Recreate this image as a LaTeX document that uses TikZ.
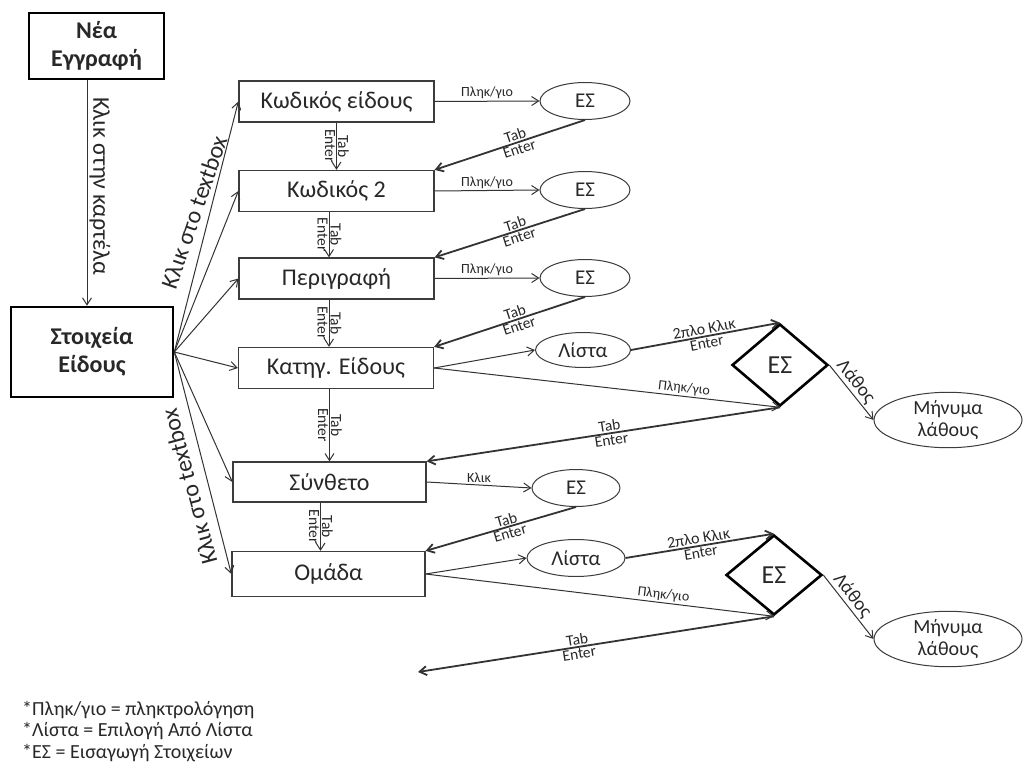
\documentclass[tikz,border=0pt]{standalone}
\usepackage{fontspec}
\setmainfont{Carlito}
\usetikzlibrary{shapes.geometric,arrows.meta,calc}
\definecolor{redl}{RGB}{205,110,120}
\definecolor{bord}{RGB}{60,60,60}
\definecolor{ink}{RGB}{40,40,40}
\pgfdeclarelayer{bg}
\pgfsetlayers{bg,main}
\begin{document}
\begin{tikzpicture}[x=1pt,y=-1pt,
  box/.style={draw=bord,line width=1.3pt,minimum width=195pt,minimum height=41pt,inner sep=0pt,text=ink,font=\fontsize{24}{26}\selectfont},
  thickbox/.style={draw=black,line width=2.6pt,inner sep=0pt,align=center,text=ink,font=\bfseries\fontsize{24}{28}\selectfont},
  es/.style={ellipse,draw=bord,line width=1pt,fill=white,inner sep=0pt,text=ink,font=\fontsize{21}{23}\selectfont},
  dia/.style={diamond,draw=black,line width=2.6pt,fill=white,inner sep=0pt,minimum width=96pt,minimum height=82pt,text=ink,font=\fontsize{26}{28}\selectfont},
  arr/.style={draw=black!80,line width=1pt,-{Straight Barb[length=7pt,width=9pt]}},
  tarr/.style={arr,line width=1.8pt},
  redline/.style={draw=redl,line width=1.6pt},
  lbl/.style={font=\fontsize{14}{15}\selectfont,inner sep=1.5pt,text=ink},
  tlbl/.style={lbl,font=\fontsize{15.5}{16}\selectfont,inner sep=1pt},
  klbl/.style={lbl,font=\fontsize{16}{17}\selectfont},
  big/.style={font=\fontsize{24}{26}\selectfont,inner sep=2pt,text=ink},
  err/.style={lbl,font=\fontsize{19}{20}\selectfont},
]
\useasboundingbox (0,0) rectangle (1028,776);
\fill[white] (0,0) rectangle (1028,776);

% main boxes
\node[thickbox,minimum width=135pt,minimum height=66pt] (nea) at (96.5,46) {Νέα\\Εγγραφή};
\node[thickbox,minimum width=162pt,minimum height=90pt] (st) at (92,352) {Στοιχεία\\Είδους};
\node[box] (k1) at (336.5,101.5) {Κωδικός είδους};
\node[box] (k2) at (336.5,191) {Κωδικός 2};
\node[box] (k3) at (336.5,278.5) {Περιγραφή};
\node[box] (k4) at (336,368) {Κατηγ. Είδους};
\node[box,minimum width=193pt,minimum height=40pt] (k5) at (329.5,482) {Σύνθετο};
\node[box,minimum width=193pt,minimum height=45pt] (k6) at (328.5,574) {Ομάδα};

% ellipses
\node[es,minimum width=90pt,minimum height=37pt] (e1) at (585,101) {ΕΣ};
\node[es,minimum width=90pt,minimum height=37pt] (e2) at (585,190) {ΕΣ};
\node[es,minimum width=90pt,minimum height=37pt] (e3) at (585,278) {ΕΣ};
\node[es,minimum width=95pt,minimum height=35pt] (l1) at (583,350) {Λίστα};
\node[es,minimum width=88pt,minimum height=37pt] (e5) at (576,488) {ΕΣ};
\node[es,minimum width=98pt,minimum height=37pt] (l2) at (576,558) {Λίστα};
\node[es,minimum width=148pt,minimum height=46pt,align=center,font=\fontsize{20}{22}\selectfont] (m1) at (948,420) {Μήνυμα\\λάθους};
\node[es,minimum width=148pt,minimum height=48pt,align=center,font=\fontsize{20}{22}\selectfont] (m2) at (948,639) {Μήνυμα\\λάθους};

% diamonds
\node[dia] (d1) at (780,365) {ΕΣ};
\node[dia,minimum height=80pt] (d2) at (774,575) {ΕΣ};

% coordinates
\coordinate (rt) at (967,101);
\coordinate (rb) at (967,774);
\coordinate (fe) at (418,672);
\coordinate (n1) at ($(nea.south)+(-9.5,0)$);

% red lines
\begin{pgfonlayer}{bg}
\draw[redline] (e1.east) -- (rt);
\draw[redline,-{Straight Barb[length=7pt,width=9pt]}] (rt) -- (rb) node[pos=0.967,right,lbl]{F2};
\draw[redline] (e2.east) -- (e2.east -| rt);
\draw[redline] (e3.east) -- (e3.east -| rt);
\draw[redline] (d1.north) -- (d1.north -| rt);
\draw[redline] (e5.east) -- (e5.east -| rt);
\draw[redline] (d2.north) -- (d2.north -| rt);
\end{pgfonlayer}

% Nea -> Stoixeia
\draw[arr] (n1) -- (n1 |- st.north) node[pos=0.47,big,rotate=-90,anchor=south]{Κλικ στην καρτέλα};

% Stoixeia -> boxes
\foreach \t in {k1,k2,k3,k4,k5,k6} \draw[arr] (st.east) -- (\t.west);
\node[big,rotate=71,inner sep=0pt] (kt1) at (194,212) {Κλικ στο textbox};
\node[big,rotate=105,inner sep=0pt] (kt2) at (189,487) {Κλικ στο textbox};

% vertical arrows
\draw[arr] (k1.south) -- (k2.north) node[midway,tlbl,rotate=-90,anchor=south]{Tab} node[midway,tlbl,rotate=-90,anchor=north]{Enter};
\draw[arr] ([xshift=-7.5pt]k2.south) -- ([xshift=-7.5pt]k3.north) node[midway,tlbl,rotate=-90,anchor=south]{Tab} node[midway,tlbl,rotate=-90,anchor=north]{Enter};
\draw[arr] ([xshift=-7.5pt]k3.south) -- ([xshift=-7pt]k4.north) node[midway,tlbl,rotate=-90,anchor=south]{Tab} node[midway,tlbl,rotate=-90,anchor=north]{Enter};
\draw[arr] (k4.south -| k5.north) -- (k5.north) node[midway,tlbl,rotate=-90,anchor=south]{Tab} node[midway,tlbl,rotate=-90,anchor=north]{Enter};
\draw[arr] ([xshift=-9pt]k5.south) -- ([xshift=-8pt]k6.north) node[midway,tlbl,rotate=-90,anchor=south]{Tab} node[midway,tlbl,rotate=-90,anchor=north]{Enter};

% box -> ES
\draw[arr] (k1.east) -- (e1.west) node[midway,above,lbl]{Πληκ/γιο};
\draw[arr] (k2.east) -- (e2.west) node[midway,above,lbl]{Πληκ/γιο};
\draw[arr] (k3.east) -- (e3.west) node[midway,above,lbl]{Πληκ/γιο};
\draw[arr] (k5.east) -- (e5.west) node[midway,above,lbl]{Κλικ};

% ES -> next box
\draw[tarr] (e1.south) -- (k2.north east) node[pos=0.45,sloped,above,tlbl]{Tab} node[pos=0.45,sloped,below,tlbl]{Enter};
\draw[tarr] (e2.south) -- (k3.north east) node[pos=0.45,sloped,above,tlbl]{Tab} node[pos=0.45,sloped,below,tlbl]{Enter};
\draw[tarr] (e3.south) -- (k4.north east) node[pos=0.45,sloped,above,tlbl]{Tab} node[pos=0.45,sloped,below,tlbl]{Enter};
\draw[tarr] (e5.south) -- (k6.north east) node[pos=0.45,sloped,above,tlbl]{Tab} node[pos=0.45,sloped,below,tlbl]{Enter};

% group 1: Kathgoria
\draw[arr] (k4.east) -- (l1.west);
\draw[arr] (k4.east) -- (d1.south) node[pos=0.72,sloped,above,lbl]{Πληκ/γιο};
\draw[tarr] (l1.east) -- (d1.north) node[midway,sloped,above,klbl]{2πλο Κλικ} node[midway,sloped,below,tlbl]{Enter};
\draw[tarr] (d1.south) -- (k5.north east) node[pos=0.48,sloped,above,tlbl]{Tab} node[pos=0.48,sloped,below,tlbl]{Enter};
\draw[arr] (d1.east) -- (m1.west) node[pos=0.42,sloped,above,err]{Λάθος};

% group 2: Omada
\draw[arr] (k6.east) -- (l2.west);
\draw[arr] (k6.east) -- (d2.south) node[pos=0.68,sloped,above,lbl]{Πληκ/γιο};
\draw[tarr] (l2.east) -- (d2.north) node[midway,sloped,above,klbl]{2πλο Κλικ} node[midway,sloped,below,tlbl]{Enter};
\draw[tarr] (d2.south) -- (fe) node[pos=0.55,sloped,above,tlbl]{Tab} node[pos=0.55,sloped,below,tlbl]{Enter};
\draw[arr] (d2.east) -- (m2.west) node[pos=0.42,sloped,above,err]{Λάθος};

% legend
\node[anchor=north west,align=left,inner sep=0pt,text=ink,font=\fontsize{20}{21.5}\selectfont] (leg) at (22,701) {*Πληκ/γιο = πληκτρολόγηση\\*Λίστα = Επιλογή Από Λίστα\\*ΕΣ = Εισαγωγή Στοιχείων};
\end{tikzpicture}
\end{document}
